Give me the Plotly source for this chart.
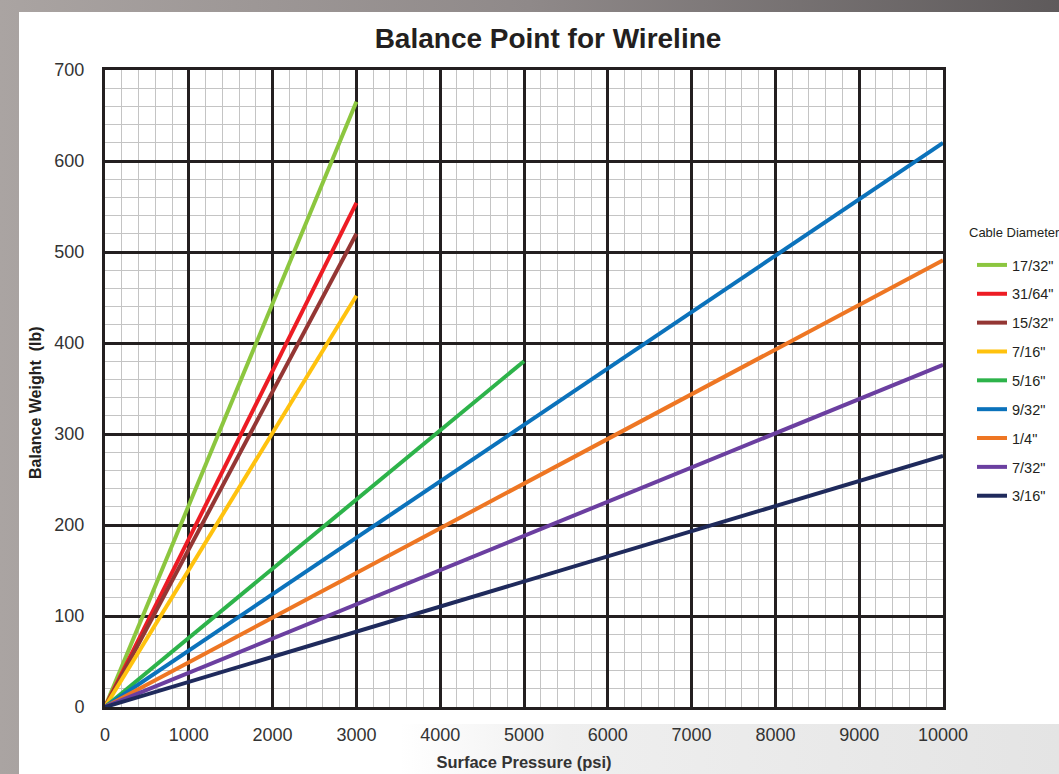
import base64
import plotly.graph_objects as go

# ---- data ----
cable_sizes = ['17/32"', '31/64"', '15/32"', '7/16"', '5/16"', '9/32"', '1/4"', '7/32"', '3/16"']
max_pressure = [3000, 3000, 3000, 3000, 5000, 10000, 10000, 10000, 10000]
max_weight = [665, 554, 520, 452, 380, 620, 491, 376, 276]
line_colors = ["#8cc63f", "#ed1c24", "#943634", "#ffc20e", "#2db34a",
               "#0b72bb", "#ee7623", "#6b3fa0", "#1f2a5c"]

x_ticks = [0, 1000, 2000, 3000, 4000, 5000, 6000, 7000, 8000, 9000, 10000]
x_tick_text = ["0", "1000", "2000", "3000", "4000", "5000", "6000", "7000", "8000", "9000", "10000"]
y_ticks = [0, 100, 200, 300, 400, 500, 600, 700]

W, H = 1059, 774
L, R, T, B = 105, 116, 70, 67
pw, ph = W - L - R, H - T - B


def px(xp):
    return (xp - L) / pw


def py(yp):
    return 1 - (yp - T) / ph


FONT = "Liberation Sans, Arial, Helvetica, sans-serif"

fig = go.Figure()
for name, xp, wt, col in zip(cable_sizes, max_pressure, max_weight, line_colors):
    fig.add_trace(go.Scatter(
        x=[0, xp], y=[0, wt], mode="lines", name=name,
        legendgroup=name,
        line=dict(color=col, width=4),
    ))

svg = f'''<svg xmlns="http://www.w3.org/2000/svg" width="{W}" height="{H}" viewBox="0 0 {W} {H}" preserveAspectRatio="none">
<defs>
<linearGradient id="g" x1="0" y1="0" x2="1" y2="0">
<stop offset="0" stop-color="#aaa4a2"/><stop offset="0.5" stop-color="#8f8989"/><stop offset="1" stop-color="#5e5a5b"/>
</linearGradient>
<linearGradient id="b" x1="0" y1="0" x2="1" y2="0">
<stop offset="0" stop-color="#ffffff"/><stop offset="0.25" stop-color="#efefef"/><stop offset="1" stop-color="#e4e4e4"/>
</linearGradient>
</defs>
<rect x="0" y="0" width="{W}" height="{H}" fill="url(#g)"/>
<rect x="19" y="12" width="{W-19}" height="{H-12}" fill="#ffffff"/>
<rect x="400" y="724" width="{W-400}" height="{H-724}" fill="url(#b)"/>
</svg>'''
src = "data:image/svg+xml;base64," + base64.b64encode(svg.encode()).decode()

fig.add_layout_image(dict(
    source=src, xref="paper", yref="paper",
    x=px(0), y=py(0), sizex=W / pw, sizey=H / ph,
    xanchor="left", yanchor="top", sizing="stretch", layer="below",
))

axis_common = dict(
    showline=True, linecolor="#231f20", linewidth=3, mirror=True,
    showgrid=True, gridcolor="#231f20", gridwidth=2.5,
    zeroline=False, automargin=False,
    ticks="outside", tickcolor="rgba(0,0,0,0)",
    tickfont=dict(family=FONT, size=18, color="#333333"),
)

fig.update_xaxes(
    range=[0, 10000], tickvals=x_ticks, ticktext=x_tick_text, ticklen=9,
    minor=dict(dtick=200, showgrid=True, gridcolor="#c4c4c4", gridwidth=1.2),
    title=dict(text="<b>Surface Pressure (psi)</b>", font=dict(family=FONT, size=16.5, color="#333333"), standoff=13),
    **axis_common,
)
fig.update_yaxes(
    range=[0, 700], tickvals=y_ticks, ticklen=14,
    minor=dict(dtick=20, showgrid=True, gridcolor="#c4c4c4", gridwidth=1.2),
    **axis_common,
)

annotations = [
    dict(text="<b>Balance Weight  (lb)</b>", xref="paper", yref="paper",
         x=px(35), y=py(403), xanchor="center", yanchor="middle", textangle=-90,
         showarrow=False, font=dict(family=FONT, size=16, color="#231f20")),
    dict(text="Cable Diameter", xref="paper", yref="paper",
         x=px(967), y=py(232), xanchor="left", yanchor="middle",
         showarrow=False, font=dict(family=FONT, size=13, color="#231f20")),
]

fig.update_layout(
    width=W, height=H,
    margin=dict(l=L, r=R, t=T, b=B, autoexpand=False),
    paper_bgcolor="#ffffff", plot_bgcolor="#ffffff",
    font=dict(family=FONT, color="#231f20"),
    title=dict(text="<b>Balance Point for Wireline</b>", x=548 / W, xanchor="center",
               y=1 - 38 / H, yanchor="middle",
               font=dict(family=FONT, size=28, color="#231f20")),
    legend=dict(
        x=px(972), xanchor="left",
        y=py(249), yanchor="top",
        bgcolor="rgba(0,0,0,0)",
        font=dict(family=FONT, size=14.5, color="#231f20"),
        tracegroupgap=7, itemwidth=30,
    ),
    annotations=annotations,
    showlegend=True,
)

fig.write_html("out.html", config={"displayModeBar": False},
               post_script="document.body.style.margin='0';document.body.style.overflow='hidden';")
